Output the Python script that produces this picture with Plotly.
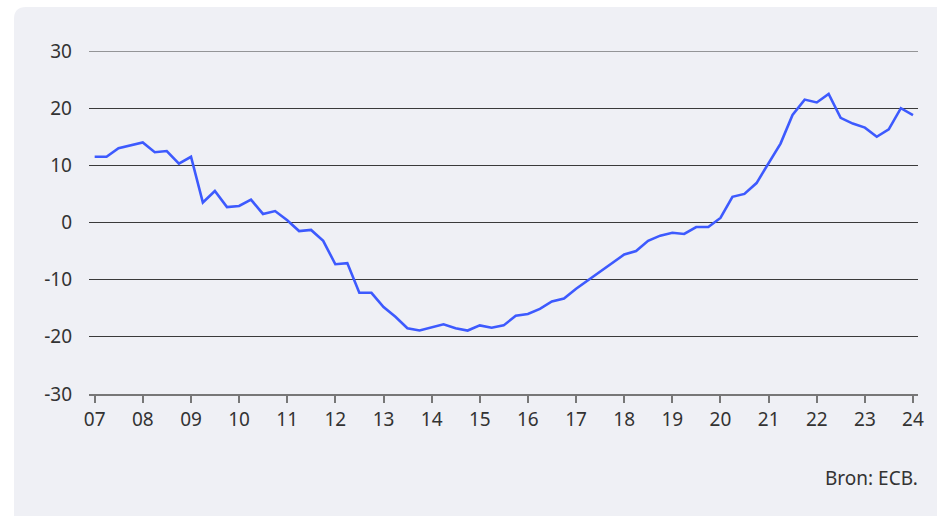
import plotly.graph_objects as go
import pandas as pd

# Quarterly observations, 2007Q1 .. 2024Q1
quarters = pd.date_range("2007-01-01", "2024-01-01", freq="QS").strftime("%Y-%m-%d").tolist()
values = [
    11.5, 11.5, 13.0, 13.5,
    14.0, 12.3, 12.5, 10.3,
    11.5, 3.5, 5.5, 2.7,
    2.9, 4.0, 1.5, 2.0,
    0.4, -1.5, -1.3, -3.2,
    -7.3, -7.1, -12.3, -12.3,
    -14.8, -16.5, -18.5, -18.9,
    -18.3, -17.8, -18.5, -18.9,
    -18.0, -18.4, -18.0, -16.3,
    -16.0, -15.1, -13.8, -13.3,
    -11.6, -10.1, -8.6, -7.1,
    -5.6, -5.0, -3.2, -2.3,
    -1.8, -2.0, -0.8, -0.8,
    0.8, 4.5, 5.0, 6.9,
    10.3, 13.8, 18.8, 21.5,
    21.0, 22.5, 18.3, 17.3,
    16.6, 15.0, 16.3, 20.0,
    18.8,
]
y_ticks = [30, 20, 10, 0, -10, -20, -30]
y_tick_labels = ["30", "20", "10", "0", "-10", "-20", "-30"]
x_ticks = [f"{y}-01-01" for y in range(2007, 2025)]
x_tick_labels = [f"{y % 100:02d}" for y in range(2007, 2025)]
source_text = "Bron: ECB."

W, H = 937, 516
L, R, T, B = 89, 19, 51, 122
pw, ph = W - L - R, H - T - B

def px(x):
    return (x - L) / pw

def py(y):
    return (H - B - y) / ph

fig = go.Figure()
fig.add_trace(go.Scatter(
    x=quarters, y=values, mode="lines",
    line=dict(color="#3d5afe", width=2.6),
    hoverinfo="skip", showlegend=False,
))

# rounded card background
r = 12
x0, y0, x1, y1 = 14, 7, 960, 540
path = (
    f"M {px(x0 + r)} {py(y0)} L {px(x1)} {py(y0)} L {px(x1)} {py(y1)} "
    f"L {px(x0 + r)} {py(y1)} Q {px(x0)} {py(y1)} {px(x0)} {py(y1 - r)} "
    f"L {px(x0)} {py(y0 + r)} Q {px(x0)} {py(y0)} {px(x0 + r)} {py(y0)} Z"
)
fig.add_shape(type="path", path=path, xref="paper", yref="paper",
              fillcolor="#eff0f5", line=dict(width=0), layer="below")

# top gridline (plotly omits gridlines at the range edge)
fig.add_shape(type="line", xref="paper", yref="y", x0=0, x1=1,
              y0=max(y_ticks), y1=max(y_ticks),
              line=dict(color="#3a3a3a", width=1), layer="below")

fig.add_annotation(text=source_text, xref="paper", yref="paper",
                   x=px(920), y=py(478), xanchor="right", yanchor="middle",
                   showarrow=False, font=dict(size=19, color="#333333"))

fig.update_layout(
    width=W, height=H,
    margin=dict(l=L, r=R, t=T, b=B),
    paper_bgcolor="white",
    plot_bgcolor="rgba(0,0,0,0)",
    font=dict(family="Noto Sans", size=19, color="#333333"),
    xaxis=dict(
        type="date",
        range=["2006-11-19", "2024-02-08"],
        tickvals=x_ticks, ticktext=x_tick_labels,
        showgrid=False, zeroline=False,
        showline=True, linecolor="#777777", linewidth=1.5,
        ticks="outside", ticklen=7, tickwidth=1.5, tickcolor="#777777",
        tickfont=dict(size=19, color="#333333"),
    ),
    yaxis=dict(
        range=[-30, 30],
        tickvals=y_ticks, ticktext=y_tick_labels,
        showgrid=True, gridcolor="#3a3a3a", gridwidth=1,
        zeroline=False, showline=False, ticks="",
        ticklabelstandoff=16,
        tickfont=dict(size=19, color="#333333"),
    ),
)

fig.write_html("out.html", config={"displayModeBar": False},
               post_script="document.body.style.margin='0';")
